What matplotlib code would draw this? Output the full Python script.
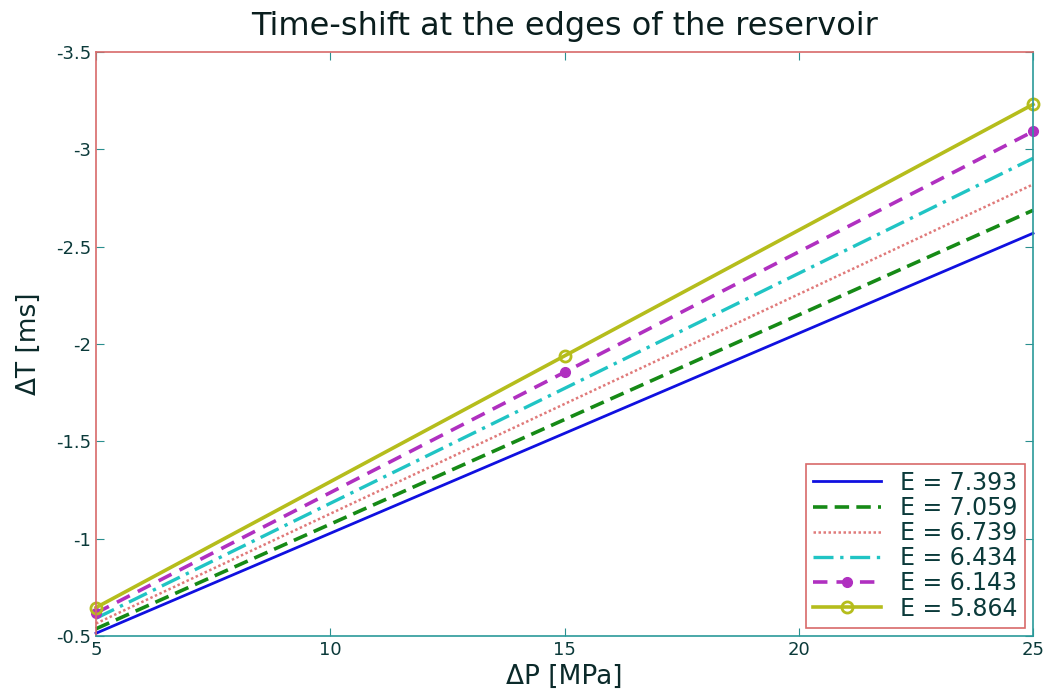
import matplotlib
matplotlib.use("Agg")
import matplotlib.pyplot as plt

plt.rcParams["font.family"] = ["DejaVu Sans"]
plt.rcParams["axes.unicode_minus"] = False

# data
dp = [5, 15, 25]
labels = ["E = 7.393", "E = 7.059", "E = 6.739", "E = 6.434", "E = 6.143", "E = 5.864"]
dt_7393 = [-0.514, -1.541, -2.569]
dt_7059 = [-0.537, -1.612, -2.687]
dt_6739 = [-0.564, -1.692, -2.820]
dt_6434 = [-0.591, -1.772, -2.954]
dt_6143 = [-0.618, -1.855, -3.092]
dt_5864 = [-0.646, -1.939, -3.231]
series = [dt_7393, dt_7059, dt_6739, dt_6434, dt_6143, dt_5864]

styles = [
    dict(color="#1010e0", ls="-", lw=2.0),
    dict(color="#168a16", ls=(0, (4, 2)), lw=2.6),
    dict(color="#e07a7a", ls=(0, (1, 1)), lw=1.8),
    dict(color="#20c4c4", ls=(0, (6, 2, 1, 2)), lw=2.4),
    dict(color="#b030c0", ls=(0, (4, 2.5)), lw=2.6, marker="o", ms=7,
         mfc="#b030c0", mec="#b030c0"),
    dict(color="#b5bd1c", ls="-", lw=2.6, marker="o", ms=8,
         mfc="none", mec="#b5bd1c", mew=2),
]

fig = plt.figure(figsize=(10.46, 6.94), dpi=100)
ax = fig.add_axes([0.0918, 0.0836, 0.8958, 0.8414])

for vals, lab, st in zip(series, labels, styles):
    ax.plot(dp, vals, label=lab, clip_on=False, **st)

ax.set_xlim(5, 25)
ax.set_ylim(-0.5, -3.5)
ax.set_xticks([5, 10, 15, 20, 25])
ax.set_yticks([-3.5, -3, -2.5, -2, -1.5, -1, -0.5])
ax.set_yticklabels(["-3.5", "-3", "-2.5", "-2", "-1.5", "-1", "-0.5"])
ax.tick_params(direction="in", length=6, top=True, right=True,
               labelsize=13, labelcolor="#0b3a3a", color="#2a8f8f")

for side in ["top", "left"]:
    ax.spines[side].set_color("#d86a6a")
for side in ["right", "bottom"]:
    ax.spines[side].set_color("#2a9a9a")
for s in ax.spines.values():
    s.set_linewidth(1.2)

ax.set_xlabel("ΔP [MPa]", fontsize=19, color="#0b2a2a", labelpad=4)
ax.set_ylabel("ΔT [ms]", fontsize=19, color="#0b2a2a", labelpad=10)
ax.set_title("Time-shift at the edges of the reservoir", fontsize=23, pad=12,
             color="#0a1e1e")

leg = ax.legend(loc="lower right", fontsize=17, fancybox=False, framealpha=1,
                borderaxespad=0.35, handlelength=2.9, handletextpad=0.8,
                labelspacing=0.05, borderpad=0.3)
leg.get_frame().set_edgecolor("#d86a6a")
leg.get_frame().set_linewidth(1.2)
for t in leg.get_texts():
    t.set_color("#0b3a3a")

fig.savefig("out.png", dpi=100)
